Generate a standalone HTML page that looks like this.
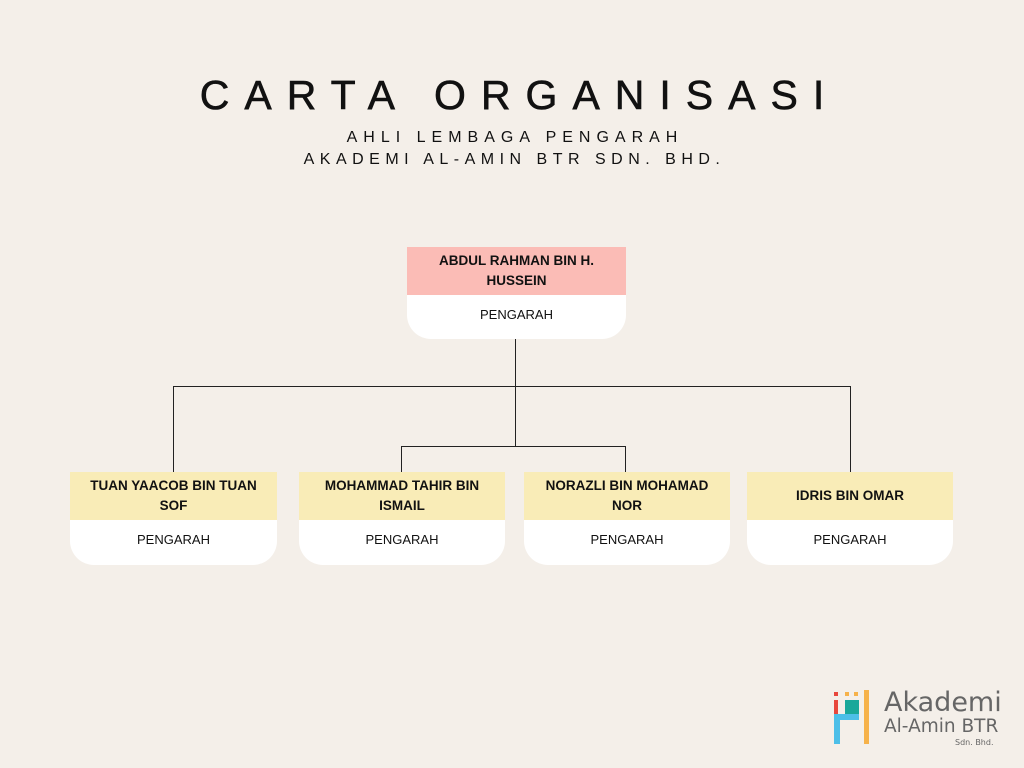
<!DOCTYPE html>
<html><head><meta charset="utf-8"><style>
body{margin:0;width:1024px;height:768px;background:#f4efe9;position:relative;overflow:hidden;font-family:"Liberation Sans",sans-serif;color:#111}
.t{position:absolute;left:0;width:1024px;text-align:center}
.box{position:absolute;}
.top{position:absolute;left:0;right:0;top:0;height:48px;display:flex;align-items:center;justify-content:center;text-align:center;font-weight:bold;font-size:13.5px;line-height:20px}
.bot{position:absolute;left:0;right:0;top:48px;bottom:0;background:#fff;border-radius:0 0 24px 24px;text-align:center;font-size:13px;padding-top:12px;box-sizing:border-box}
.l{position:absolute;background:#222}
</style></head><body>
<div class="t" style="top:72px;font-size:41px;letter-spacing:15px;padding-left:15px;box-sizing:border-box;-webkit-text-stroke:0.6px #111">CARTA ORGANISASI</div>
<div class="t" style="top:129px;font-size:16px;letter-spacing:6px;padding-left:6px;box-sizing:border-box">AHLI LEMBAGA PENGARAH</div>
<div class="t" style="top:151px;font-size:16px;letter-spacing:5.5px;padding-left:5px;box-sizing:border-box">AKADEMI AL-AMIN BTR SDN. BHD.</div>

<div class="l" style="left:515px;top:339px;width:1px;height:107px"></div>
<div class="l" style="left:173px;top:386px;width:678px;height:1px"></div>
<div class="l" style="left:173px;top:386px;width:1px;height:86px"></div>
<div class="l" style="left:850px;top:386px;width:1px;height:86px"></div>
<div class="l" style="left:401px;top:446px;width:225px;height:1px"></div>
<div class="l" style="left:401px;top:446px;width:1px;height:26px"></div>
<div class="l" style="left:625px;top:446px;width:1px;height:26px"></div>

<div class="box" style="left:407px;top:247px;width:219px;height:92px">
<div class="top" style="background:#fbbcb6;padding:0 20px">ABDUL RAHMAN BIN H.<br>HUSSEIN</div><div class="bot">PENGARAH</div></div>

<div class="box" style="left:70px;top:472px;width:207px;height:93px">
<div class="top" style="background:#f9ecb7">TUAN YAACOB BIN TUAN<br>SOF</div><div class="bot">PENGARAH</div></div>
<div class="box" style="left:299px;top:472px;width:206px;height:93px">
<div class="top" style="background:#f9ecb7">MOHAMMAD TAHIR BIN<br>ISMAIL</div><div class="bot">PENGARAH</div></div>
<div class="box" style="left:524px;top:472px;width:206px;height:93px">
<div class="top" style="background:#f9ecb7">NORAZLI BIN MOHAMAD<br>NOR</div><div class="bot">PENGARAH</div></div>
<div class="box" style="left:747px;top:472px;width:206px;height:93px">
<div class="top" style="background:#f9ecb7">IDRIS BIN OMAR</div><div class="bot">PENGARAH</div></div>

<svg style="position:absolute;left:834px;top:689px" width="40" height="56">
<rect x="0" y="3" width="4" height="4" fill="#e8473c"/><rect x="11" y="3" width="4" height="4" fill="#f6b24a"/><rect x="20" y="3" width="4" height="4" fill="#f6b24a"/>
<rect x="0" y="11" width="4" height="14" fill="#e8473c"/>
<rect x="11" y="11" width="14" height="20" fill="#1aa89a"/>
<rect x="0" y="25" width="25" height="6" fill="#4dbfe8"/><rect x="0" y="25" width="6" height="30" fill="#4dbfe8"/>
<rect x="30" y="1" width="5" height="54" fill="#f6b24a"/>
</svg>
<div style="position:absolute;left:884px;top:687px;font-size:27px;color:#666;font-family:'DejaVu Sans',sans-serif">Akademi</div>
<div style="position:absolute;left:884px;top:716px;font-size:18.5px;color:#666;font-family:'DejaVu Sans',sans-serif">Al-Amin BTR</div>
<div style="position:absolute;left:955px;top:738px;font-size:8px;color:#666;font-family:'DejaVu Sans',sans-serif">Sdn. Bhd.</div>
</body></html>
